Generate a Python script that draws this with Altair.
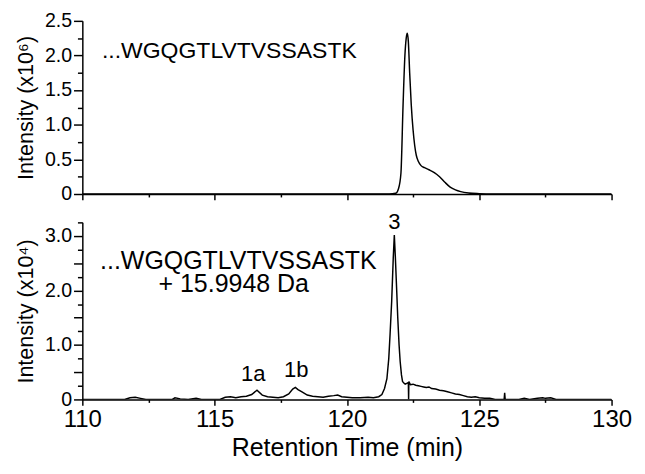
import altair as alt
import pandas as pd

# ---------------- data ----------------
top_time = [110.0, 121.6, 121.84, 121.95, 122.04, 122.12, 122.19, 122.24, 122.28,
            122.32, 122.37, 122.43, 122.5, 122.56, 122.62, 122.7, 122.8, 122.93,
            123.1, 123.3, 123.5, 123.7, 123.9, 124.1, 124.3, 124.6, 125.0, 125.5, 130.0]
top_int = [0.0, 0.0, 0.01, 0.08, 0.3, 1.28, 2.0, 2.25, 2.32,
           2.2, 1.75, 1.29, 0.92, 0.7, 0.56, 0.47, 0.41, 0.38,
           0.35, 0.31, 0.25, 0.17, 0.10, 0.06, 0.035, 0.015, 0.005, 0.0, 0.0]

bot_time = [110.0, 111.6, 111.8, 112.0, 112.2, 112.4, 113.4, 113.5, 113.7, 114.0,
            114.3, 114.5, 115.2, 115.4, 115.6, 115.8, 116.0, 116.2, 116.4, 116.6,
            116.8, 117.0, 117.2, 117.4, 117.6, 117.8, 117.95, 118.05, 118.15, 118.3,
            118.5, 118.7, 118.9, 119.1, 119.3, 119.5, 119.65, 119.8, 120.0, 120.2,
            120.5, 120.8, 121.0, 121.2, 121.32, 121.42, 121.51, 121.58, 121.63, 121.69,
            121.75, 121.79, 121.83, 121.88, 121.92, 121.97, 122.01, 122.06, 122.1, 122.15,
            122.2, 122.28, 122.32, 122.33, 122.34, 122.4, 122.5, 122.6, 122.7, 122.8,
            122.9, 123.0, 123.1, 123.2, 123.35, 123.5, 123.65, 123.8, 123.95, 124.1,
            124.25, 124.4, 124.55, 124.7, 124.85, 125.0, 125.2, 125.4, 125.6, 125.94,
            125.96, 125.98, 126.5, 126.7, 126.9, 127.2, 127.4, 127.5, 127.7, 127.9, 130.0]
bot_int = [0.0, 0.0, 0.03, 0.04, 0.02, 0.0, 0.0, 0.03, 0.01, 0.0,
           0.02, 0.0, 0.0, 0.04, 0.05, 0.03, 0.05, 0.06, 0.09, 0.17,
           0.08, 0.05, 0.04, 0.03, 0.05, 0.10, 0.19, 0.22, 0.18, 0.14,
           0.08, 0.06, 0.05, 0.04, 0.06, 0.07, 0.08, 0.05, 0.04, 0.03,
           0.03, 0.04, 0.03, 0.05, 0.09, 0.2, 0.38, 0.75, 1.2, 1.8,
           2.6, 3.02, 2.6, 2.0, 1.5, 1.0, 0.7, 0.45, 0.33, 0.3,
           0.28, 0.3, 0.31, 0.0, 0.33, 0.27, 0.28, 0.26, 0.25, 0.24,
           0.23, 0.22, 0.23, 0.2, 0.19, 0.17, 0.16, 0.14, 0.12, 0.1,
           0.09, 0.07, 0.05, 0.04, 0.05, 0.03, 0.02, 0.02, 0.0, 0.0,
           0.12, 0.0, 0.0, 0.02, 0.0, 0.02, 0.03, 0.02, 0.03, 0.0, 0.0]

x_ticks = [110, 112.5, 115, 117.5, 120, 122.5, 125, 127.5, 130]
top_y_ticks = [0, 0.25, 0.5, 0.75, 1.0, 1.25, 1.5, 1.75, 2.0, 2.25, 2.5]
bot_y_ticks = [0, 0.25, 0.5, 0.75, 1.0, 1.25, 1.5, 1.75, 2.0, 2.25, 2.5, 2.75, 3.0, 3.25]

top_label = ["...WGQGTLVTVSSASTK"]
top_label_pos = [(110.74, 1.96)]
bot_labels = ["...WGQGTLVTVSSASTK", "+ 15.9948 Da"]
bot_label_pos = [(110.67, 2.40), (115.72, 1.98)]
peak_labels = ["1a", "1b", "3"]
peak_label_pos = [(116.46, 0.33), (118.08, 0.42), (121.79, 3.125)]

FONT = "Liberation Sans"
INK = "#000000"

top_df = pd.DataFrame({"t": top_time, "v": top_int})
bot_df = pd.DataFrame({"t": bot_time, "v": bot_int})


def x_axis(show_labels):
    return alt.Axis(
        values=x_ticks,
        grid=False,
        domainColor=INK, domainWidth=1.5,
        tickColor=INK, tickWidth=1.5,
        tickSize={"condition": {"test": "datum.value % 5 === 0", "value": 6}, "value": 3},
        labels=show_labels,
        labelExpr="datum.value % 5 === 0 ? datum.label : ''",
        labelFont=FONT, labelFontSize=24.5, labelColor=INK, labelPadding=3,
        labelFlush=False, labelOverlap=False,
        titleFont=FONT, titleFontSize=25.5, titleFontWeight="normal", titleColor=INK,
        titlePadding=5,
    )


def y_axis(values, title, label_step):
    expr = ("datum.value === 0 ? '0' : (datum.value % " + label_step +
            " === 0 ? datum.label : '')")
    return alt.Axis(
        values=values,
        grid=False,
        format=".1f",
        domainColor=INK, domainWidth=1.5,
        tickColor=INK, tickWidth=1.5,
        tickSize={"condition": {"test": "datum.value % 0.5 === 0", "value": 9}, "value": 5},
        labelExpr=expr,
        labelFont=FONT, labelFontSize=20, labelColor=INK, labelPadding=2,
        labelFlush=False, labelOverlap=False,
        title=title,
        titleFont=FONT, titleFontSize=22, titleFontWeight="normal", titleColor=INK,
        titlePadding=7,
    )


def panel(df, ydomain, yvals, ytitle, label_step, show_x, height, interp, texts):
    xenc = alt.X("t:Q", scale=alt.Scale(domain=[110, 130], nice=False, zero=False),
                 axis=x_axis(show_x),
                 title="Retention Time (min)" if show_x else None)
    yenc = alt.Y("v:Q", scale=alt.Scale(domain=ydomain, nice=False),
                 axis=y_axis(yvals, ytitle, label_step), title=ytitle)
    line = alt.Chart(df).mark_line(color="#000000", strokeWidth=1.5,
                                   interpolate=interp, clip=True).encode(x=xenc, y=yenc)
    layers = [line]
    for labels, positions, size, align in texts:
        tdf = pd.DataFrame({"t": [p[0] for p in positions],
                            "v": [p[1] for p in positions],
                            "txt": labels})
        layers.append(
            alt.Chart(tdf).mark_text(font=FONT, fontSize=size, color=INK,
                                     align=align, baseline="alphabetic").encode(
                x=xenc, y=yenc, text="txt:N")
        )
    return alt.layer(*layers).properties(width=541, height=height)


top = panel(top_df, [0, 2.5], top_y_ticks, "Intensity (x10⁶)", "0.5", False, 177,
            "monotone", [(top_label, top_label_pos, 23.5, "left")])
bottom = panel(bot_df, [0, 3.25], bot_y_ticks, "Intensity (x10⁴)", "1", True, 181,
               "linear", [(bot_labels[:1], bot_label_pos[:1], 25.5, "left"),
                          (bot_labels[1:], bot_label_pos[1:], 25.5, "center"),
                          (peak_labels, peak_label_pos, 22.5, "center")])

chart = alt.vconcat(top, bottom, spacing=29, bounds="flush").properties(
    padding={"left": 7, "top": -2, "right": 5, "bottom": 5},
    background="white",
).configure_view(stroke=None)

chart.save("out.html", embed_options={"renderer": "svg", "actions": False})
